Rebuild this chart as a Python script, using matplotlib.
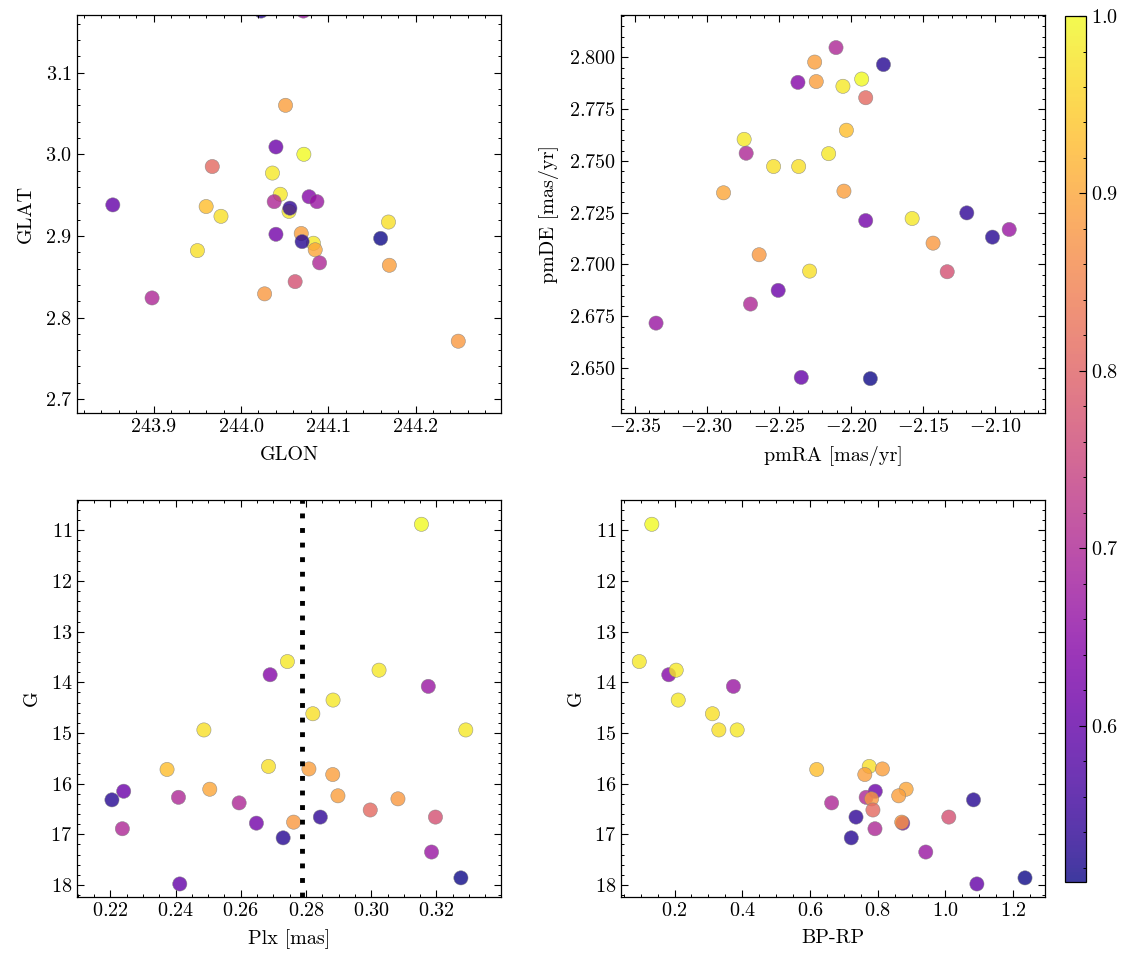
import numpy as np
import matplotlib
matplotlib.use('Agg')
import matplotlib.pyplot as plt
from matplotlib.ticker import MultipleLocator

# one entry per star
G = [10.88, 13.59, 13.85, 13.76, 14.08, 14.35, 14.62, 14.94, 14.94, 15.72,
     15.66, 15.71, 15.82, 16.15, 16.32, 16.11, 16.27, 16.24, 16.30, 16.38,
     16.52, 16.78, 16.76, 16.66, 16.66, 16.89, 17.07, 17.35, 17.98, 17.86]
plx = [0.3154, 0.2743, 0.2690, 0.3024, 0.3175, 0.2883, 0.2821, 0.2487, 0.3290, 0.2374,
       0.2685, 0.2809, 0.2882, 0.2241, 0.2205, 0.2505, 0.2409, 0.2898, 0.3082, 0.2595,
       0.2997, 0.2648, 0.2762, 0.2844, 0.3197, 0.2237, 0.2730, 0.3185, 0.2413, 0.3275]
bp_rp = [0.133, 0.096, 0.183, 0.205, 0.374, 0.211, 0.312, 0.331, 0.385, 0.620,
         0.775, 0.814, 0.762, 0.793, 1.083, 0.884, 0.766, 0.862, 0.782, 0.664,
         0.786, 0.874, 0.871, 0.736, 1.010, 0.792, 0.722, 0.942, 1.093, 1.235]
prob = [1.00, 0.98, 0.64, 0.98, 0.67, 0.98, 0.97, 0.97, 0.98, 0.93,
        0.97, 0.89, 0.89, 0.61, 0.53, 0.90, 0.70, 0.89, 0.88, 0.70,
        0.81, 0.62, 0.88, 0.54, 0.77, 0.70, 0.53, 0.67, 0.60, 0.512]
glon = [244.072, 244.036, 244.078, 244.045, 244.087, 244.055, 243.977, 244.169, 244.083, 243.960,
        243.950, 244.051, 244.069, 244.040, 244.023, 244.085, 244.038, 244.170, 244.027, 244.090,
        243.967, 244.040, 244.249, 244.056, 244.062, 243.898, 244.070, 244.0715, 243.853, 244.160]
glat = [3.000, 2.977, 2.948, 2.951, 2.942, 2.930, 2.924, 2.917, 2.891, 2.936,
        2.882, 3.060, 2.903, 3.009, 3.1755, 2.883, 2.942, 2.864, 2.829, 2.867,
        2.985, 2.902, 2.771, 2.934, 2.844, 2.824, 2.893, 3.1755, 2.938, 2.897]
pmra = [-2.1926, -2.2056, -2.2368, -2.2741, -2.3352, -2.2155, -2.2537, -2.2363, -2.1576, -2.2032,
        -2.2287, -2.2252, -2.2241, -2.2505, -2.1775, -2.2884, -2.2104, -2.2049, -2.1431, -2.2727,
        -2.1898, -2.1898, -2.2637, -2.1197, -2.1333, -2.2697, -2.1019, -2.0903, -2.2345, -2.1866]
pmde = [2.7895, 2.7860, 2.7879, 2.7604, 2.6717, 2.7535, 2.7473, 2.7473, 2.7222, 2.7648,
        2.6968, 2.7977, 2.7883, 2.6875, 2.7965, 2.7346, 2.8047, 2.7354, 2.7103, 2.7537,
        2.7805, 2.7212, 2.7047, 2.7249, 2.6965, 2.6809, 2.7132, 2.7169, 2.6455, 2.6449]
plx_mean = 0.2787

plt.rcParams.update({
    'font.family': 'serif',
    'font.serif': ['cmr10', 'DejaVu Serif'],
    'mathtext.fontset': 'cm',
    'axes.formatter.use_mathtext': True,
    'font.size': 14.5,
    'axes.linewidth': 0.9,
    'axes.labelpad': 7,
    'xtick.direction': 'in', 'ytick.direction': 'in',
    'xtick.top': True, 'ytick.right': True,
    'xtick.major.size': 5, 'ytick.major.size': 5,
    'xtick.minor.size': 2.5, 'ytick.minor.size': 2.5,
    'xtick.major.width': 0.8, 'ytick.major.width': 0.8,
    'xtick.minor.width': 0.7, 'ytick.minor.width': 0.7,
})


def panel(ax, x, y, xlabel, ylabel, xlim, ylim, xmaj, xmin, ymaj, ymin):
    sc = ax.scatter(x, y, c=prob, cmap='plasma', vmin=min(prob), vmax=max(prob),
                    s=105, alpha=0.8, edgecolors='grey', linewidths=0.4)
    ax.set_xlabel(xlabel)
    ax.set_ylabel(ylabel)
    ax.set_xlim(*xlim)
    ax.set_ylim(*ylim)
    ax.xaxis.set_major_locator(MultipleLocator(xmaj))
    ax.xaxis.set_minor_locator(MultipleLocator(xmin))
    ax.yaxis.set_major_locator(MultipleLocator(ymaj))
    ax.yaxis.set_minor_locator(MultipleLocator(ymin))
    return sc


fig = plt.figure(figsize=(11.33, 9.65), dpi=100)
ax1 = fig.add_axes([0.0680, 0.5720, 0.3742, 0.4124])
ax2 = fig.add_axes([0.5481, 0.5720, 0.3742, 0.4124])
ax3 = fig.add_axes([0.0680, 0.0705, 0.3742, 0.4114])
ax4 = fig.add_axes([0.5481, 0.0705, 0.3742, 0.4114])
cax = fig.add_axes([0.9400, 0.0860, 0.0185, 0.8974])

panel(ax1, glon, glat, 'GLON', 'GLAT', (243.812, 244.298), (2.683, 3.1706),
      0.1, 0.02, 0.1, 0.02)
panel(ax2, pmra, pmde, 'pmRA [mas/yr]', 'pmDE [mas/yr]', (-2.3595, -2.0655), (2.6283, 2.8204),
      0.05, 0.01, 0.025, 0.005)
ax2.yaxis.set_major_formatter(matplotlib.ticker.FormatStrFormatter('$%.3f$'))
panel(ax3, plx, G, 'Plx [mas]', 'G', (0.2098, 0.3398), (18.237, 10.40),
      0.02, 0.005, 1, 0.2)
ax3.axvline(plx_mean, color='black', lw=3.5, linestyle=(0, (1, 2)))
sc = panel(ax4, bp_rp, G, 'BP-RP', 'G', (0.042, 1.294), (18.237, 10.40),
           0.2, 0.05, 1, 0.2)

cb = fig.colorbar(sc, cax=cax)
cb.ax.yaxis.set_major_locator(MultipleLocator(0.1))
cb.ax.yaxis.set_minor_locator(MultipleLocator(0.02))
cb.ax.tick_params(which='both', direction='in')
cb.outline.set_linewidth(0.9)
cb.solids.set_alpha(0.8)

fig.savefig('out.png', dpi=100)
